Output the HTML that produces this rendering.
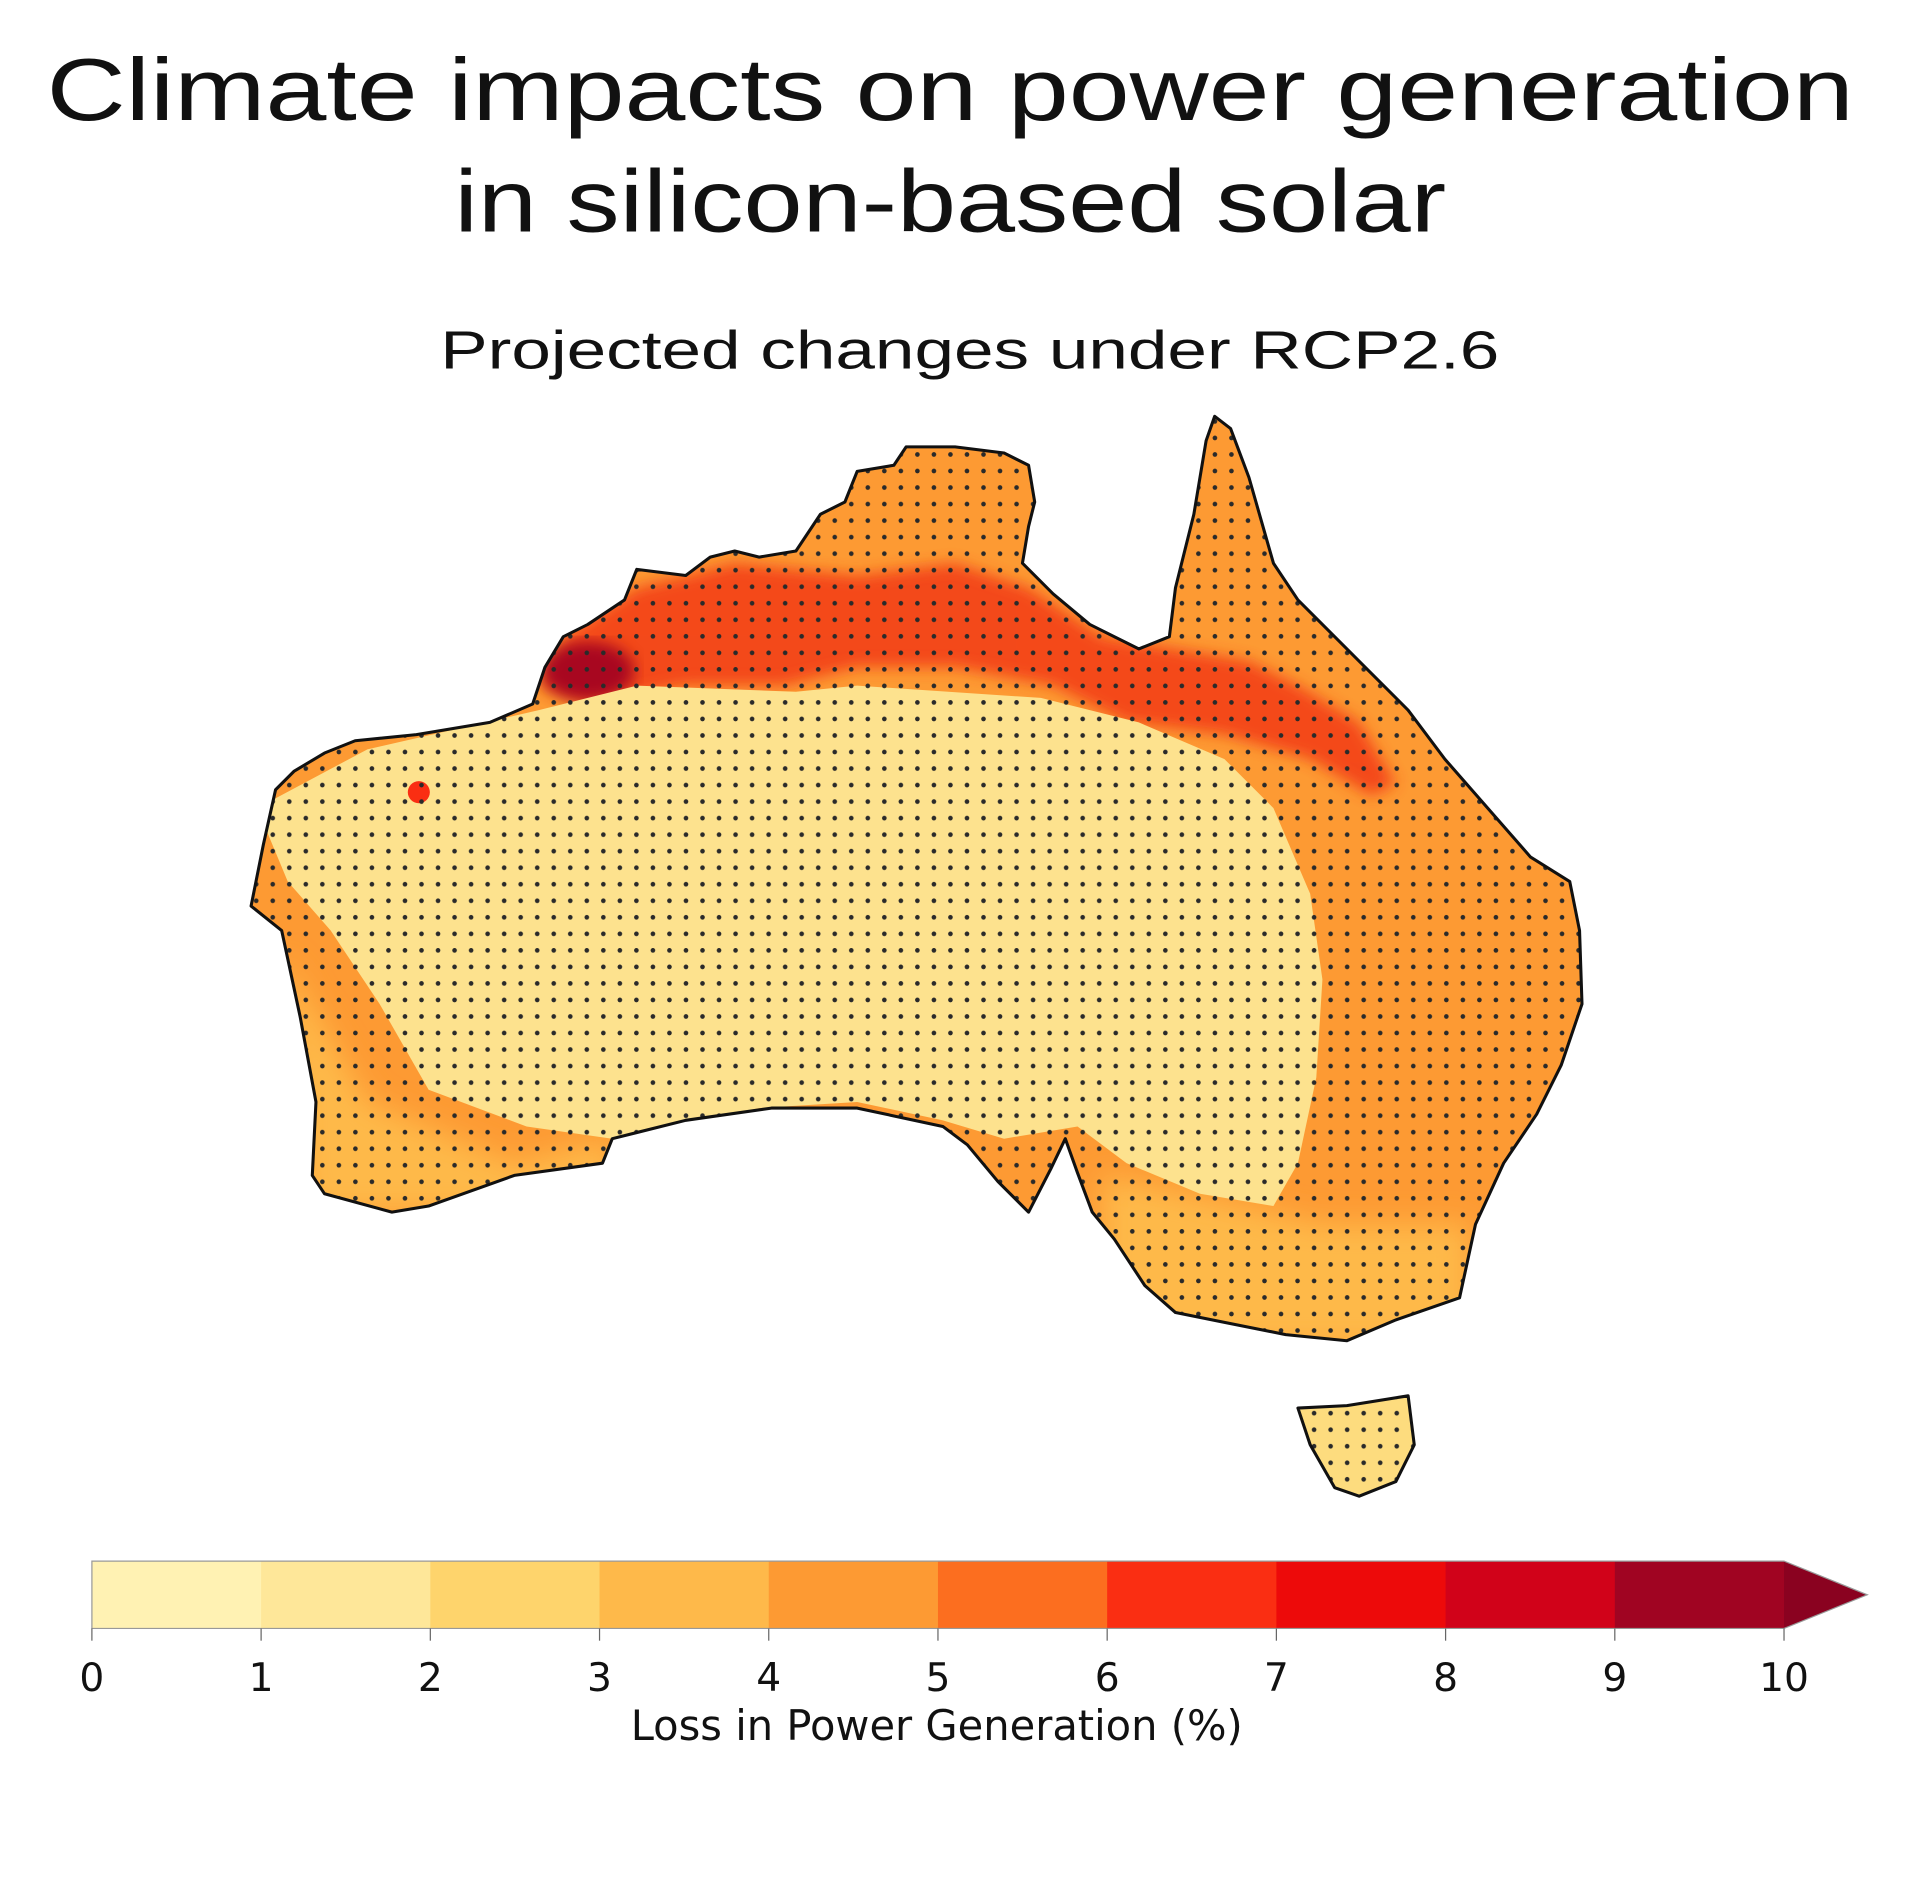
<!DOCTYPE html>
<html><head><meta charset="utf-8"><style>
html,body{margin:0;padding:0;background:#fff;}
body{width:1920px;height:1877px;overflow:hidden;position:relative;font-family:"Liberation Sans",sans-serif;}
svg{position:absolute;left:0;top:0;}
</style></head><body>
<svg id="chart" width="1920" height="1877" viewBox="0 0 1568 1533">
<defs>
 <filter id="blur" x="-20%" y="-20%" width="140%" height="140%"><feGaussianBlur stdDeviation="12"/></filter>
 <filter id="blur2"><feGaussianBlur stdDeviation="6"/></filter>
 <pattern id="dots" width="13.5" height="13.5" patternUnits="userSpaceOnUse"><circle cx="6.7" cy="6.7" r="1.9" fill="#2a2a2a"/></pattern>
 <clipPath id="ausClip"><path id="ausPathC" d=""/></clipPath>
</defs>
<text x="776" y="98" text-anchor="middle" font-size="72" textLength="1476" lengthAdjust="spacingAndGlyphs" fill="#111">Climate impacts on power generation</text>
<text x="776" y="189" text-anchor="middle" font-size="72" textLength="810" lengthAdjust="spacingAndGlyphs" fill="#111">in silicon-based solar</text>
<text x="792" y="301" text-anchor="middle" font-size="44" textLength="865" lengthAdjust="spacingAndGlyphs" fill="#111">Projected changes under RCP2.6</text>
<g id="map"></g>
<g id="cbar"></g>
</svg>
<script>
const levels=[0,1,2,3,4,5,6,7,8,9,10];
const levelColors=["#fff2b3","#fee799","#fed46c","#feb94a","#fd9a33","#fc6e1f","#fa2e12","#ed0a0a","#d10219","#a00422","#8a0220"];
const tickLabels=["0","1","2","3","4","5","6","7","8","9","10"];
const axisTitle="Loss in Power Generation (%)";
const NS="http://www.w3.org/2000/svg";
function mk(t,a,p){const e=document.createElementNS(NS,t);for(const k in a)e.setAttribute(k,a[k]);p.appendChild(e);return e;}
const aus="M225,645 L240,630 L265,615 L290,605 L340,600 L400,590 L435,575 L445,545 L460,520 L480,510 L510,490 L520,465 L560,470 L580,455 L600,450 L620,455 L650,450 L670,420 L690,410 L700,385 L730,380 L740,365 L780,365 L820,370 L840,380 L845,410 L840,430 L835,460 L860,485 L890,510 L930,530 L955,520 L960,480 L975,420 L985,360 L992,340 L1005,350 L1020,390 L1040,460 L1060,490 L1090,520 L1120,550 L1150,580 L1180,620 L1215,660 L1250,700 L1282,720 L1290,760 L1292,820 L1275,870 L1255,910 L1228,950 L1205,1000 L1192,1060 L1140,1078 L1100,1095 L1050,1090 L1000,1080 L960,1072 L935,1050 L910,1012 L892,990 L880,958 L870,930 L858,955 L840,990 L815,965 L790,935 L770,920 L700,905 L630,905 L560,915 L500,930 L492,950 L420,960 L350,985 L320,990 L265,975 L255,960 L258,900 L245,830 L230,760 L205,740 L215,690 Z";
const tas="M1060,1150 L1100,1148 L1150,1140 L1155,1180 L1140,1210 L1110,1222 L1090,1215 L1070,1180 Z";
document.getElementById('ausPathC').setAttribute('d',aus+" "+tas);
const m=document.getElementById('map');
const g=mk('g',{'clip-path':'url(#ausClip)'},m);


mk('rect',{x:150,y:300,width:1200,height:950,fill:levelColors[4]},g);
mk('path',{d:"M230,780 L300,900 L420,950 L500,930 L500,990 L250,990 Z",fill:levelColors[3],filter:'url(#blur)'},g);
mk('path',{d:"M900,960 L1080,1000 L1200,1000 L1200,1100 L900,1100 Z",fill:levelColors[3],filter:'url(#blur)'},g);
mk('path',{d:"M1040,1130 L1170,1130 L1170,1230 L1040,1230 Z",fill:"#fddc7e"},g);
mk('path',{d:"M440,560 L460,520 L520,480 L600,460 L700,470 L780,460 L840,480 L900,520 L960,530 L1020,540 L1060,560 L1110,590 L1140,640 L1120,650 L1070,620 L1000,600 L920,590 L860,560 L780,545 L700,545 L640,560 L560,560 L480,575 Z",fill:"#f23a14",opacity:0.85,filter:'url(#blur2)'},g);
mk('ellipse',{cx:480,cy:548,rx:38,ry:24,fill:levelColors[9],opacity:0.9,filter:'url(#blur2)'},g);
const pale=mk('path',{d:"M210,660 L300,612 L440,580 L520,560 L650,565 L700,560 L850,570 L930,590 L1000,620 L1040,660 L1070,730 L1080,800 L1075,880 L1060,950 L1040,985 L980,975 L920,950 L880,920 L820,930 L770,915 L700,900 L620,905 L500,930 L430,920 L350,890 L310,820 L270,760 L235,720 Z",fill:"#fde28e"},g);


mk('circle',{cx:342,cy:647,r:9,fill:levelColors[6]},g);
mk('rect',{x:150,y:300,width:1200,height:950,fill:'url(#dots)'},g);
const cl=mk('path',{d:aus+" "+tas,fill:'none',stroke:'#111','stroke-width':2.5,'stroke-linejoin':'round'},m);


const cb=document.getElementById('cbar');
const x0=75,x1=1457,yT=1275,yB=1330,tip=1525;
const sx=v=>x0+(v-levels[0])/(levels[levels.length-1]-levels[0])*(x1-x0);
for(let i=0;i<levels.length-1;i++){
 const r=mk('rect',{x:sx(levels[i]),y:yT,width:sx(levels[i+1])-sx(levels[i])+0.5,height:yB-yT,fill:levelColors[i]},cb);
 
 
}
const ar=mk('path',{d:`M${x1},${yT} L${tip},${(yT+yB)/2} L${x1},${yB} Z`,fill:levelColors[10]},cb);


mk('path',{d:`M${x0},${yT} L${x1},${yT} L${tip},${(yT+yB)/2} L${x1},${yB} L${x0},${yB} Z`,fill:'none',stroke:'#999','stroke-width':1},cb);
levels.forEach((v,i)=>{
 mk('line',{x1:sx(v),x2:sx(v),y1:yB,y2:yB+10,stroke:'#666','stroke-width':1},cb);
 const t=mk('text',{x:sx(v),y:1381,'text-anchor':'middle','font-size':32,fill:'#111','font-family':'DejaVu Sans, sans-serif'},cb);
 
 
 t.textContent=tickLabels[i];
});
const at=mk('text',{x:765,y:1421,'text-anchor':'middle','font-size':34,fill:'#111','font-family':'DejaVu Sans, sans-serif'},cb);


at.textContent=axisTitle;
</script>
</body></html>
